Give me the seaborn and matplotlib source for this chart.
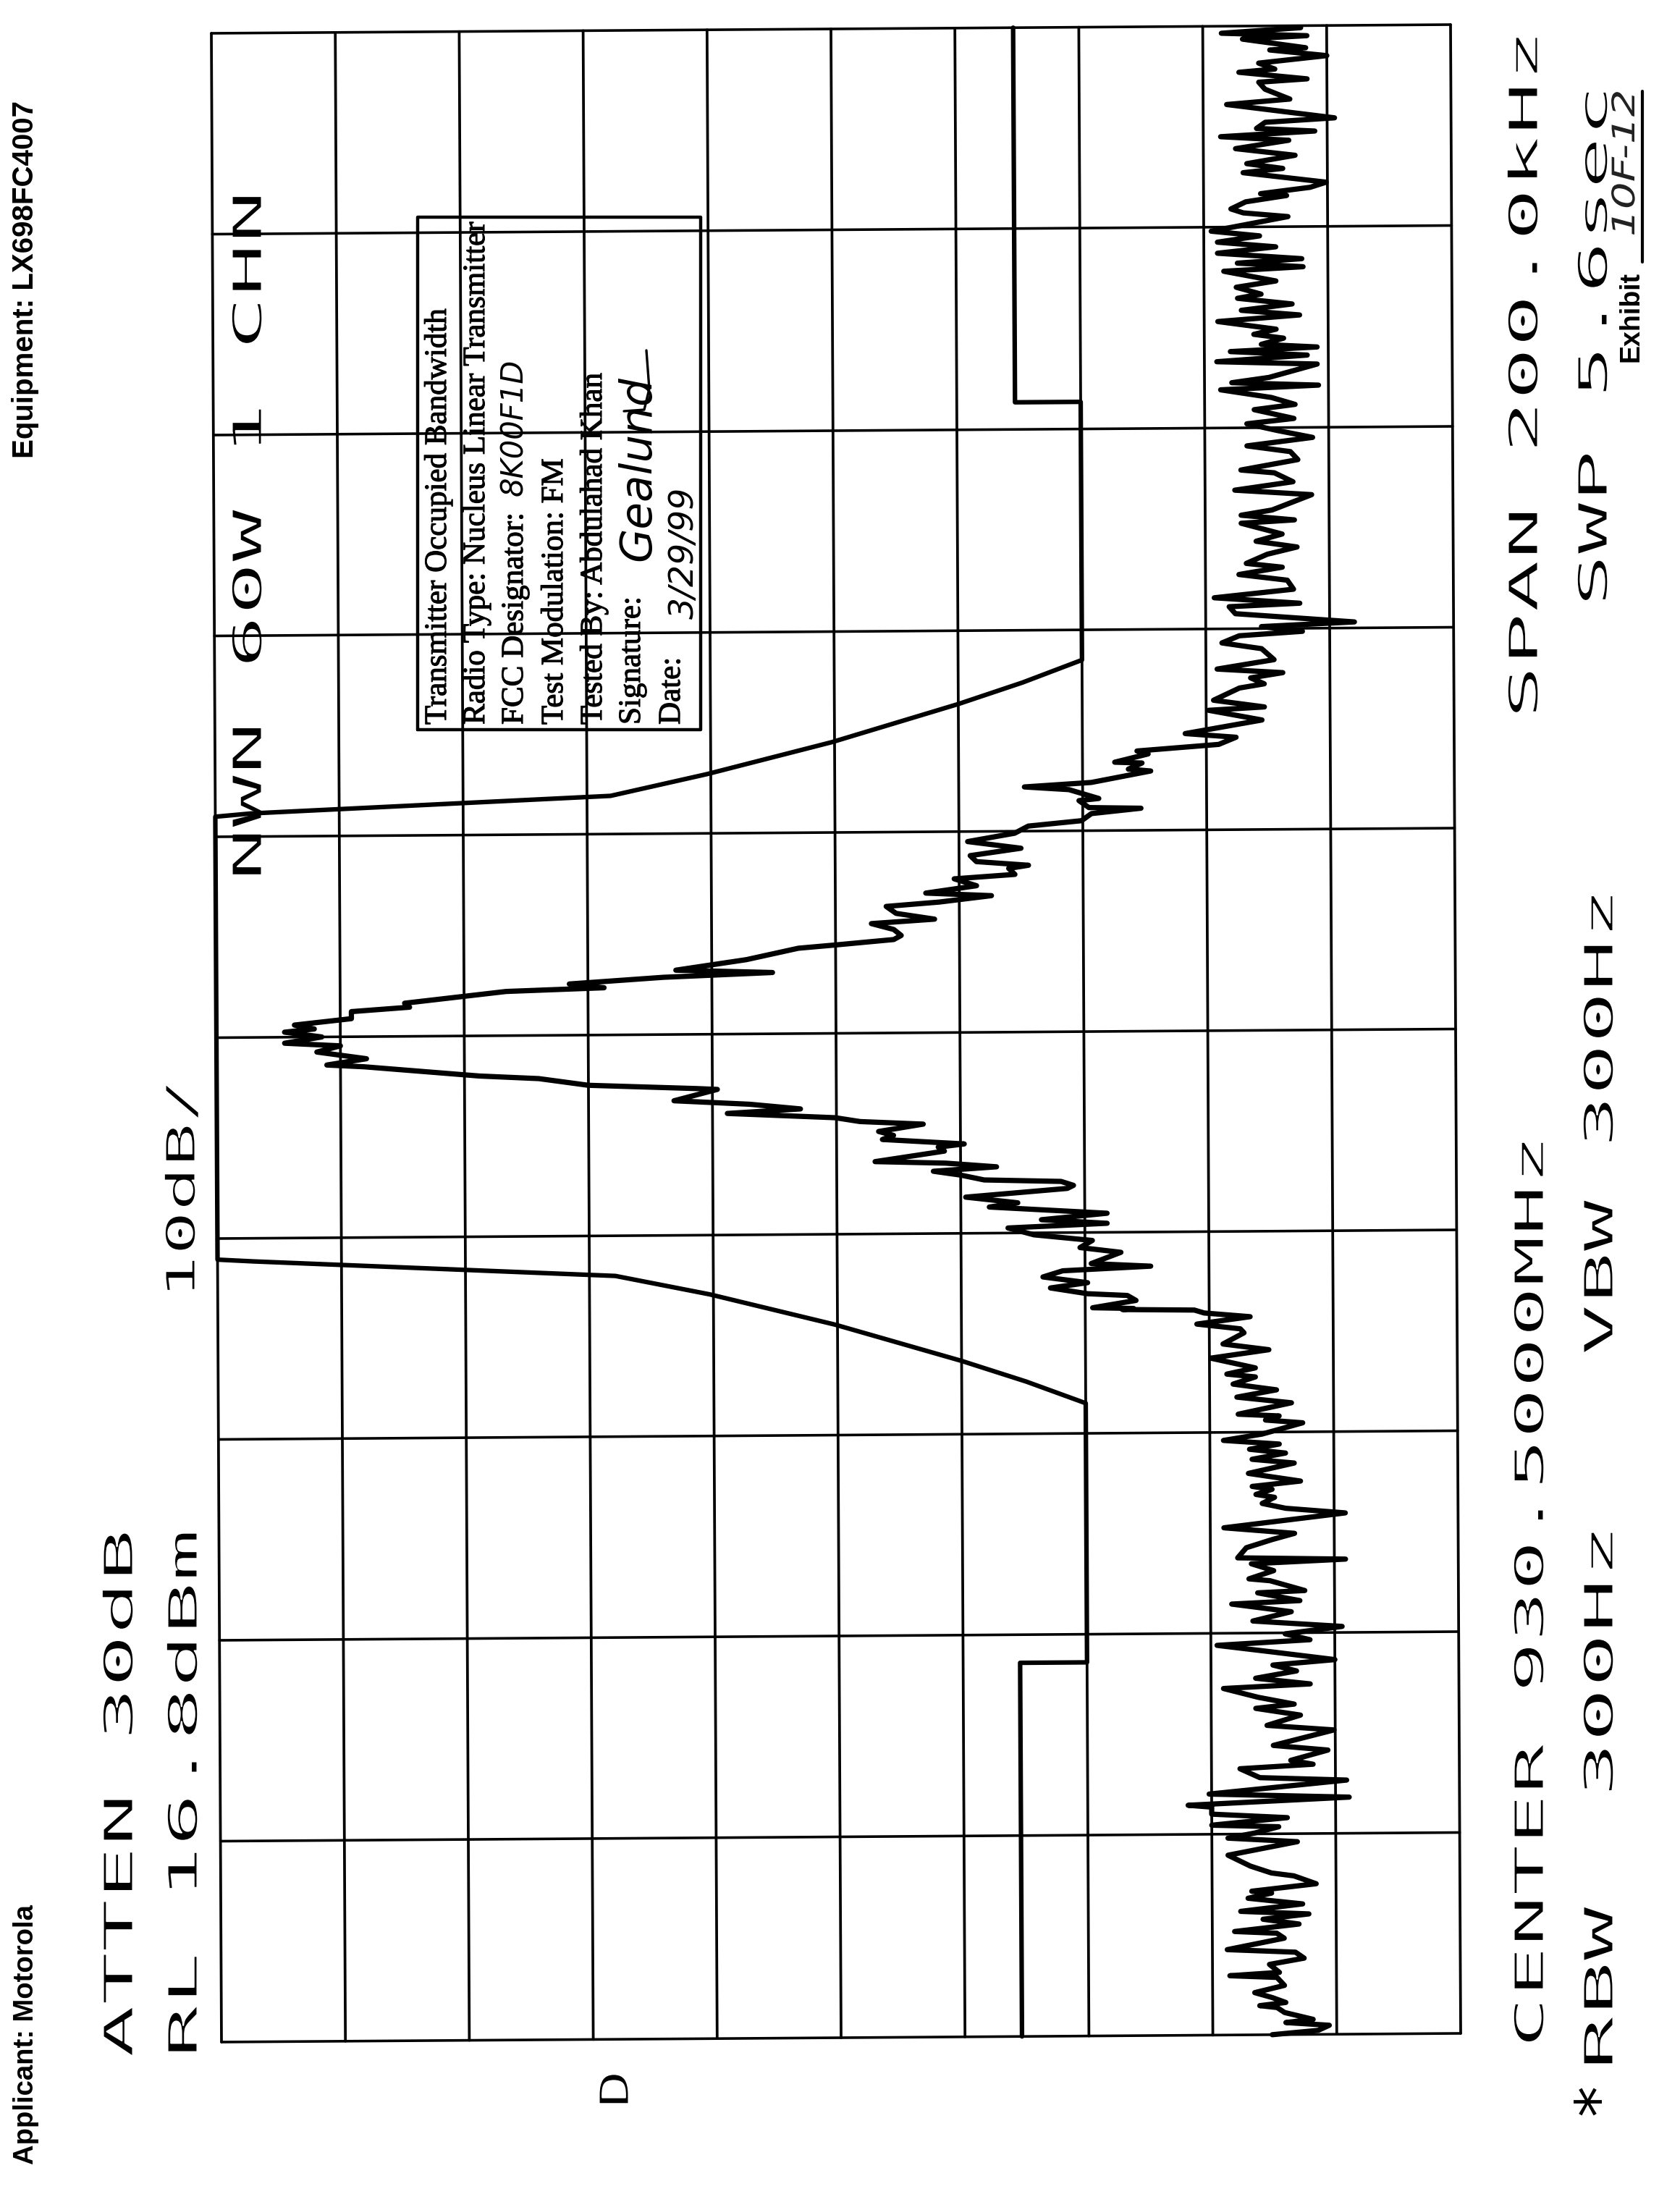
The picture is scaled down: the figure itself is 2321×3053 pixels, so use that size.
import matplotlib
matplotlib.use('Agg')
import matplotlib.pyplot as plt
import seaborn as sns
from matplotlib.patheffects import AbstractPathEffect, Normal, Stroke
from matplotlib.transforms import Affine2D, IdentityTransform

W, H = 2321, 3053

# Trace: offset from centre in kHz, level in dB below the reference line
low_freq = [-100.0, -99.6, -99.1, -98.8, -98.5, -97.8, -97.3, -97.1, -96.8, -96.3, -95.8, -95.1, -94.3, -94.1, -93.8, -93.0,
            -92.4, -91.8, -91.5, -90.4, -89.9, -89.7, -89.0, -88.5, -88.0, -87.7, -87.0, -86.4, -85.9, -85.7, -85.0, -84.2,
            -83.9, -83.2, -82.1, -80.8, -80.4, -79.9, -79.3, -79.1, -78.4, -78.0, -77.3, -77.1, -76.4, -76.0, -74.7, -74.4,
            -73.5, -73.1, -72.7, -71.7, -71.2, -69.7, -69.2, -68.2, -67.5, -67.1, -66.4, -65.5, -65.1, -64.5, -63.8, -63.2,
            -62.7, -61.9, -61.2, -60.7, -60.1, -59.4, -58.8, -57.9, -57.1, -56.8, -56.0, -55.8, -54.8, -54.6, -53.8, -53.1,
            -52.7, -52.5, -51.5, -50.7, -50.1, -49.5, -48.1, -47.6, -47.1]
low_level = [84.8, 88.5, 89.4, 85.9, 88.1, 85.8, 85.2, 83.8, 85.9, 84.8, 83.4, 85.8, 85.2, 81.4, 85.4, 84.6,
             87.4, 86.7, 81.2, 85.8, 85.2, 81.8, 87.0, 84.1, 87.8, 82.3, 87.3, 82.9, 84.8, 83.2, 88.4, 86.6,
             84.8, 83.1, 81.3, 86.9, 81.3, 83.5, 85.4, 80.0, 86.1, 80.0, 80.0, 78.1, 91.1, 79.8, 90.9, 83.9,
             82.3, 88.2, 86.4, 89.4, 85.0, 89.9, 84.5, 87.2, 83.6, 86.7, 83.8, 81.0, 88.0, 83.6, 86.9, 85.0,
             90.0, 85.0, 80.5, 88.0, 86.0, 90.6, 83.4, 86.5, 81.7, 87.2, 83.8, 87.6, 84.8, 83.1, 85.1, 83.3,
             90.9, 82.2, 82.9, 85.0, 86.8, 81.1, 90.9, 86.1, 84.2]

rise_freq = [-46.5, -46.2, -45.7, -45.4, -44.9, -44.1, -43.1, -42.7, -42.1, -41.7, -41.2, -40.8, -40.2, -39.1, -38.8, -38.4,
             -38.2, -37.1, -36.5, -35.8, -35.2, -34.5, -34.2, -33.6, -32.6, -31.8, -31.2, -30.1, -29.7, -29.2, -28.5, -28.1,
             -27.8, -27.7, -27.6, -27.5, -26.8, -26.3, -26.1, -25.5, -25.0, -24.4, -23.8, -23.4, -23.1, -22.0, -21.5, -20.8,
             -20.2, -19.5, -19.1, -18.7, -18.1, -17.4, -17.0, -16.4, -15.6, -15.3, -14.9, -14.7, -14.2, -13.8, -13.4, -13.0,
             -12.8, -11.8, -11.4, -11.1, -10.6, -10.2, -9.8, -9.1, -8.8, -8.4, -7.9, -7.5, -7.0, -6.8, -6.6, -5.5,
             -5.4, -5.0, -4.3, -4.0, -3.0, -2.8, -2.2, -1.5, -0.9, -0.6]
rise_level = [85.2, 83.7, 85.0, 83.4, 87.3, 83.1, 86.8, 83.4, 86.1, 83.2, 85.6, 81.1, 84.2, 87.5, 84.5, 85.6,
              82.3, 86.6, 82.2, 85.4, 81.9, 83.7, 81.4, 83.7, 80.1, 84.8, 81.1, 82.8, 82.5, 79.0, 83.3, 79.6,
              78.8, 73.0, 73.9, 70.6, 74.1, 73.4, 70.2, 67.2, 70.2, 66.6, 68.2, 75.3, 70.5, 72.9, 69.6, 70.6,
              65.9, 63.8, 71.8, 66.5, 71.8, 62.3, 64.6, 60.4, 68.6, 69.1, 68.1, 61.9, 60.0, 57.8, 62.9, 58.8,
              53.1, 58.7, 58.2, 60.3, 53.7, 54.6, 53.4, 57.0, 51.9, 49.9, 41.2, 47.1, 43.0, 39.9, 36.9, 40.4,
              38.7, 30.0, 26.0, 21.2, 11.9, 8.9, 12.1, 8.1, 10.0, 5.5]

fall_freq = [0.0, 0.5, 0.8, 1.2, 1.8, 2.5, 2.9, 3.3, 4.4, 4.7, 5.1, 5.7, 6.1, 6.4, 7.4, 8.5, 8.8, 9.3, 9.7, 10.3,
             10.9, 11.3, 11.9, 12.6, 13.0, 13.6, 13.9, 14.6, 15.3, 15.7, 16.3, 16.6, 17.0, 17.6, 18.3, 19.0, 19.8, 20.5, 21.0, 21.7,
             22.2, 22.3, 23.0, 23.2, 24.1, 24.4, 24.8, 25.9, 26.1, 26.7, 26.8, 27.6, 27.9, 28.5, 29.2, 29.6, 30.9, 31.9, 32.2, 32.9,
             34.1, 34.5, 35.1, 35.6, 36.0, 36.9, 38.0, 38.6, 39.3, 39.7, 40.2, 40.6, 41.5, 42.2, 42.5, 43.1, 43.9]
fall_level = [8.5, 5.5, 7.9, 6.3, 10.9, 10.9, 15.6, 15.2, 23.4, 31.3, 28.5, 36.1, 44.9, 37.1, 42.8, 47.0, 50.0, 54.7, 55.3, 54.7,
              52.9, 58.0, 54.9, 54.1, 58.4, 62.6, 57.3, 61.4, 59.6, 64.5, 64.0, 65.6, 61.4, 60.9, 65.0, 60.7, 64.5, 65.6, 69.9, 70.7,
              74.7, 70.5, 69.7, 71.3, 68.9, 65.3, 70.7, 75.5, 73.7, 74.8, 72.6, 75.3, 74.4, 81.0, 82.4, 78.3, 84.5, 80.2, 84.7, 80.6,
              82.7, 84.7, 83.6, 86.2, 80.9, 85.5, 84.5, 81.3, 82.7, 87.8, 84.5, 92.0, 82.4, 81.9, 87.6, 80.7, 87.1]

high_freq = [44.8, 45.4, 46.1, 46.5, 47.4, 48.1, 48.7, 49.4, 50.5, 50.8, 51.3, 51.8, 53.3, 53.8, 54.6, 55.5, 55.8, 56.8, 57.6, 58.2,
             59.0, 59.7, 60.4, 60.9, 61.8, 62.3, 63.0, 63.8, 64.2, 64.5, 65.0, 66.3, 66.6, 67.2, 67.6, 68.0, 68.3, 68.9, 69.3, 69.8,
             70.6, 71.2, 71.7, 72.3, 72.9, 73.3, 74.0, 74.6, 75.6, 76.0, 76.4, 76.8, 77.4, 78.0, 78.5, 79.1, 79.6, 81.0, 81.4, 81.8,
             82.5, 83.1, 83.3, 83.9, 84.4, 85.4, 85.8, 86.3, 87.1, 87.8, 88.6, 89.0, 89.5, 89.8, 90.4, 90.8, 92.2, 92.7, 93.7, 94.4,
             94.7, 95.4, 95.7, 96.3, 97.0, 97.6, 97.8, 98.7, 99.0, 99.3, 99.8]
high_level = [86.6, 82.7, 86.2, 83.3, 85.0, 87.4, 84.1, 86.2, 82.9, 87.2, 82.9, 85.4, 88.6, 82.4, 87.1, 85.6, 82.9, 87.5, 86.9, 83.4,
              88.7, 85.9, 83.4, 87.2, 84.0, 87.3, 85.4, 81.3, 89.2, 82.2, 85.2, 89.1, 81.0, 88.3, 82.1, 89.1, 84.6, 86.4, 84.0, 85.8,
              81.1, 87.7, 83.0, 87.1, 82.7, 84.6, 82.6, 85.8, 81.6, 88.0, 82.7, 87.9, 81.1, 85.8, 81.1, 84.5, 80.6, 86.8, 83.2, 82.2,
              83.4, 86.7, 84.6, 88.6, 89.9, 83.2, 86.4, 83.5, 87.4, 82.6, 86.9, 81.4, 89.0, 84.3, 85.0, 90.6, 81.9, 87.0, 85.0, 84.5,
              88.4, 82.9, 85.8, 84.5, 90.0, 85.4, 88.3, 83.2, 88.4, 81.5, 87.9]

# Limit mask drawn over the trace
mask_freq = [-100.0, -62.8, -62.8, -37.0, -34.8, -32.7, -29.0, -25.9, -24.0, -22.3, -22.1, 22.0, 22.3, 23.8, 25.9, 29.0, 32.7, 34.8, 37.0, 62.7, 62.7, 100.0]
mask_level = [64.6, 64.6, 70.0, 70.0, 65.2, 60.0, 49.8, 39.7, 32.1, 2.9, 0.0, 0.0, 2.9, 31.9, 39.7, 49.8, 60.0, 65.2, 70.0, 70.0, 64.7, 64.7]

level_lines = [0, 10, 20, 30, 40, 50, 60, 70, 80, 90, 100]
freq_lines = [-100, -80, -60, -40, -20, 0, 20, 40, 60, 80, 100]

# Printed instrument settings: text, centre of the letters across, start and end along the page
settings_text = ['ATTEN 30dB', 'RL 16.8dBm', '10dB/', 'NWN 60W 1 CHN', 'D',
                 'CENTER 930.5000MHz', 'RBW  300Hz', 'VBW 300Hz', 'SPAN 200.0kHz', 'SWP 5.6sec']
settings_across = [163, 252, 249, 341, 848, 2112, 2208, 2208, 2104, 2200]
settings_start = [2843, 2843, 1795, 1217, 2912, 2829, 2860, 1873, 993, 838]
settings_end = [2112, 2112, 1490, 263, 2860, 1567, 2105, 1226, 40, 117]

box_lines = ['Transmitter Occupied Bandwidth', 'Radio Type: Nucleus Linear Transmitter', 'FCC Designator:',
             'Test Modulation: FM', 'Tested By: Abdulahad Khan', 'Signature:', 'Date:']
box_across = [602, 655, 708, 763, 817, 870, 925]


class Stretch(AbstractPathEffect):
    # The analyser font is wide and thin, so pull the glyphs along the page and trim them
    def __init__(self, k, y0, trim=0):
        super().__init__()
        self.k, self.y0, self.trim = k, y0, trim

    def draw_path(self, renderer, gc, tpath, affine, rgbFace):
        t = affine + Affine2D().translate(0, -self.y0).scale(1, self.k).translate(0, self.y0)
        renderer.draw_path(gc, tpath, t, rgbFace)
        if self.trim:
            gc0 = renderer.new_gc()
            gc0.copy_properties(gc)
            gc0.set_foreground('white')
            gc0.set_linewidth(self.trim)
            renderer.draw_path(gc0, tpath, t, None)
            gc0.restore()


sns.set_style('white')
fig = plt.figure(figsize=(W / 100, H / 100), dpi=100, facecolor='white')
ax = fig.add_axes([0, 0, 1, 1])

# The scan sits slightly crooked on the page, so every plot mark goes through this small shear
skew = Affine2D.from_values(1, 0.00865, -0.00409, 1, -0.409, 0) + ax.transData

for lv in level_lines:
    ax.plot([lv, lv], [-100, 100], color='black', lw=2.7, transform=skew, zorder=2)
for fr in freq_lines:
    ax.plot([0, 100], [fr, fr], color='black', lw=2.6, transform=skew, zorder=2)

sns.lineplot(x=mask_level, y=mask_freq, sort=False, estimator=None, errorbar=None, color='black',
             lw=4.5, transform=skew, ax=ax, zorder=3)
sns.lineplot(x=low_level + rise_level + fall_level + high_level,
             y=low_freq + rise_freq + fall_freq + high_freq,
             sort=False, estimator=None, errorbar=None, color='black', lw=5.2, transform=skew, ax=ax, zorder=3)

# Keeps 1 pixel of the figure equal to the same step on both scales
ax.set_xlim(-306 / 17.12, (W - 306) / 17.12)
ax.set_ylim(-100 - (H - 2821) / 13.875, 100 + 46 / 13.875)
ax.axis('off')


def page_text(x, y, s, **kw):
    kw.setdefault('color', 'black')
    kw.setdefault('rotation', 90)
    kw.setdefault('rotation_mode', 'anchor')
    kw.setdefault('ha', 'left')
    kw.setdefault('va', 'baseline')
    kw.setdefault('zorder', 1)
    return ax.text(x, H - y, s, transform=IdentityTransform(), clip_on=False, **kw)


em = 56
for s, across, start, end in zip(settings_text, settings_across, settings_start, settings_end):
    k = (start - end) / (len(s) * 0.602 * em)
    page_text(across + 0.365 * em, start, s, family='DejaVu Sans Mono', fontsize=em * 0.72,
              path_effects=[Stretch(k, H - start, 1.4)])
page_text(2236, 2922, '*', family='DejaVu Sans', fontsize=62)

page_text(46, 2990, 'Applicant: Motorola', family='Liberation Sans', weight='bold', fontsize=27.5)
page_text(46, 633, 'Equipment: LX698FC4007', family='Liberation Sans', weight='bold', fontsize=29)
page_text(2263, 500, 'Exhibit', family='Liberation Sans', weight='bold', fontsize=27)
ax.plot([2269, 2269], [H - 362, H - 126], color='black', lw=3, transform=IdentityTransform())
page_text(2258, 327, '10F-12', family='DejaVu Sans', style='italic', fontsize=31, color='#222222',
          path_effects=[Stretch(1.38, H - 327)])

# Test data label pasted over the grid
ax.plot([577, 968, 968, 577, 577], [H - 1008, H - 1008, H - 300, H - 300, H - 1008], color='black', lw=3.2,
        transform=IdentityTransform(), zorder=4)
for s, across in zip(box_lines, box_across):
    page_text(across + 14, 1001, s, family='Liberation Serif', fontsize=31, zorder=5,
              path_effects=[Stroke(linewidth=0.8, foreground='black'), Normal()])
page_text(722, 685, '8K00F1D', family='DejaVu Sans', style='italic', fontsize=30, zorder=5)
page_text(898, 775, 'Gealund', family='DejaVu Sans', style='italic', fontsize=44, zorder=5)
ax.plot([862, 890, 897, 893], [H - 568, H - 566, H - 537, H - 484], color='black', lw=2.4,
        transform=IdentityTransform(), zorder=5)
page_text(958, 855, '3/29/99', family='DejaVu Sans', style='italic', fontsize=34, zorder=5)

fig.savefig('out.png', dpi=100, facecolor='white')
